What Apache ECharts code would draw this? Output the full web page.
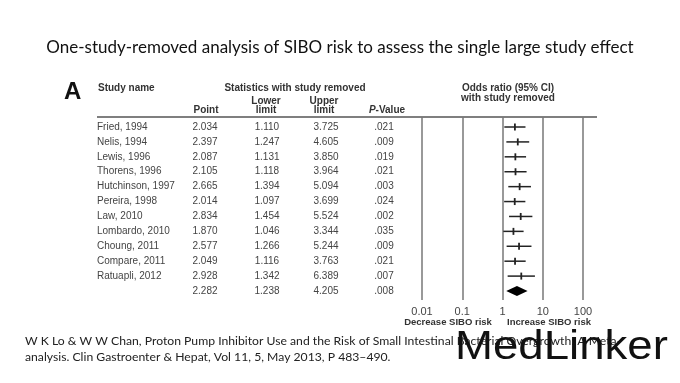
<!DOCTYPE html>
<html>
<head>
<meta charset="utf-8">
<script src="https://cdn.jsdelivr.net/npm/echarts@6/dist/echarts.min.js"></script>
<style>html,body{margin:0;padding:0;background:#fff}#c{width:680px;height:383px}</style>
</head>
<body>
<div id="c"></div>
<script>
var studies = ['Fried, 1994','Nelis, 1994','Lewis, 1996','Thorens, 1996','Hutchinson, 1997','Pereira, 1998','Law, 2010','Lombardo, 2010','Choung, 2011','Compare, 2011','Ratuapli, 2012',''];
var points = [2.034,2.397,2.087,2.105,2.665,2.014,2.834,1.870,2.577,2.049,2.928,2.282];
var lowers = [1.110,1.247,1.131,1.118,1.394,1.097,1.454,1.046,1.266,1.116,1.342,1.238];
var uppers = [3.725,4.605,3.850,3.964,5.094,3.699,5.524,3.344,5.244,3.763,6.389,4.205];
var pvalues = ['.021','.009','.019','.021','.003','.024','.002','.035','.009','.021','.007','.008'];
var xTickLabels = ['0.01','0.1','1','10','100'];
var xTickValues = [0.01,0.1,1,10,100];

var chart = echarts.init(document.getElementById('c'));
var txtFont = '"Liberation Sans", Arial, sans-serif';
var tcol = '#444';

var forestData = points.map(function(p,i){ return [p, i, lowers[i], uppers[i]]; });
var tableData = points.map(function(p,i){ return [1, i]; });

var option = {
  backgroundColor: '#fff',
  animation: false,
  grid: { left: 422, right: 97, top: 117, bottom: 83 },
  xAxis: {
    type: 'log', logBase: 10, min: 0.01, max: 100,
    axisLine: { show: false }, axisTick: { show: false },
    splitLine: { show: true, lineStyle: { color: '#777', width: 1.5 } },
    axisLabel: {
      margin: 6, fontSize: 11, color: '#444', fontFamily: txtFont,
      formatter: function(v){
        for (var k=0;k<xTickValues.length;k++){ if (Math.abs(Math.log10(v)-Math.log10(xTickValues[k]))<1e-6) return xTickLabels[k]; }
        return '';
      }
    }
  },
  yAxis: {
    type: 'value', inverse: true, min: -0.671, max: 11.603,
    show: false
  },
  graphic: [
    { type: 'text', left: 'center', top: 39, style: { text: 'One-study-removed analysis of SIBO risk to assess the single large study effect', font: '17px Lato, "Open Sans", sans-serif', fill: '#111' } },
    { type: 'text', x: 64, y: 80, style: { text: 'A', font: 'bold 24px ' + txtFont, fill: '#111' } },
    { type: 'text', x: 98, y: 83, style: { text: 'Study name', font: 'bold 10px ' + txtFont, fill: '#333' } },
    { type: 'text', x: 295, y: 83, style: { text: 'Statistics with study removed', font: 'bold 10px ' + txtFont, fill: '#333', align: 'center' } },
    { type: 'text', x: 206, y: 105, style: { text: 'Point', font: 'bold 10px ' + txtFont, fill: '#333', align: 'center' } },
    { type: 'text', x: 266, y: 96, style: { text: 'Lower\nlimit', font: 'bold 10px ' + txtFont, fill: '#333', align: 'center', lineHeight: 9.5 } },
    { type: 'text', x: 324, y: 96, style: { text: 'Upper\nlimit', font: 'bold 10px ' + txtFont, fill: '#333', align: 'center', lineHeight: 9.5 } },
    { type: 'text', x: 387, y: 105, style: { text: '{i|P}{b|-Value}', align: 'center', rich: { i: { font: 'italic bold 10px ' + txtFont, fill: '#333' }, b: { font: 'bold 10px ' + txtFont, fill: '#333' } } } },
    { type: 'text', x: 508, y: 83, style: { text: 'Odds ratio (95% CI)\nwith study removed', font: 'bold 10px ' + txtFont, fill: '#333', align: 'center', lineHeight: 10 } },
    { type: 'line', shape: { x1: 97, y1: 117, x2: 597, y2: 117 }, style: { stroke: '#555', lineWidth: 1.5 } },
    { type: 'text', x: 448, y: 317, style: { text: 'Decrease SIBO risk', font: 'bold 9.5px ' + txtFont, fill: '#333', align: 'center' } },
    { type: 'text', x: 549, y: 317, style: { text: 'Increase SIBO risk', font: 'bold 9.5px ' + txtFont, fill: '#333', align: 'center' } },
    { type: 'text', x: 25, y: 333, style: { text: 'W K Lo & W W Chan, Proton Pump Inhibitor Use and the Risk of Small Intestinal Bacterial Overgrowth: A Meta-\nanalysis. Clin Gastroenter & Hepat, Vol 11, 5, May 2013, P 483\u2013490.', font: '12.2px Lato, "Open Sans", sans-serif', fill: '#222', lineHeight: 16 } },
    { type: 'text', x: 455, y: 328, scaleX: 1.14, style: { text: 'MedLinker', font: '40px "Liberation Sans", Arial, sans-serif', fill: '#111' } }
  ],
  series: [
    {
      type: 'custom',
      data: forestData,
      renderItem: function(params, api){
        var i = api.value(1);
        var c = api.coord([api.value(0), i]);
        var lo = api.coord([api.value(2), i]);
        var hi = api.coord([api.value(3), i]);
        if (params.dataIndex === points.length - 1) {
          return { type: 'polygon', shape: { points: [[lo[0], c[1]], [c[0], c[1]-5], [hi[0], c[1]], [c[0], c[1]+5]] }, style: { fill: '#000' } };
        }
        return { type: 'group', children: [
          { type: 'line', shape: { x1: lo[0], y1: c[1], x2: hi[0], y2: c[1] }, style: { stroke: '#222', lineWidth: 1.5 } },
          { type: 'line', shape: { x1: c[0], y1: c[1]-3.5, x2: c[0], y2: c[1]+3.5 }, style: { stroke: '#222', lineWidth: 1.8 } }
        ]};
      }
    },
    {
      type: 'custom',
      data: tableData,
      renderItem: function(params, api){
        var i = params.dataIndex;
        var y = api.coord([1, api.value(1)])[1];
        var f = '10px ' + txtFont;
        return { type: 'group', children: [
          { type: 'text', style: { x: 97, y: y, text: studies[i], font: f, fill: tcol, verticalAlign: 'middle' } },
          { type: 'text', style: { x: 205, y: y, text: points[i].toFixed(3), font: f, fill: tcol, align: 'center', verticalAlign: 'middle' } },
          { type: 'text', style: { x: 267, y: y, text: lowers[i].toFixed(3), font: f, fill: tcol, align: 'center', verticalAlign: 'middle' } },
          { type: 'text', style: { x: 326, y: y, text: uppers[i].toFixed(3), font: f, fill: tcol, align: 'center', verticalAlign: 'middle' } },
          { type: 'text', style: { x: 384, y: y, text: pvalues[i], font: f, fill: tcol, align: 'center', verticalAlign: 'middle' } }
        ]};
      }
    }
  ]
};
chart.setOption(option);
</script>
</body>
</html>
